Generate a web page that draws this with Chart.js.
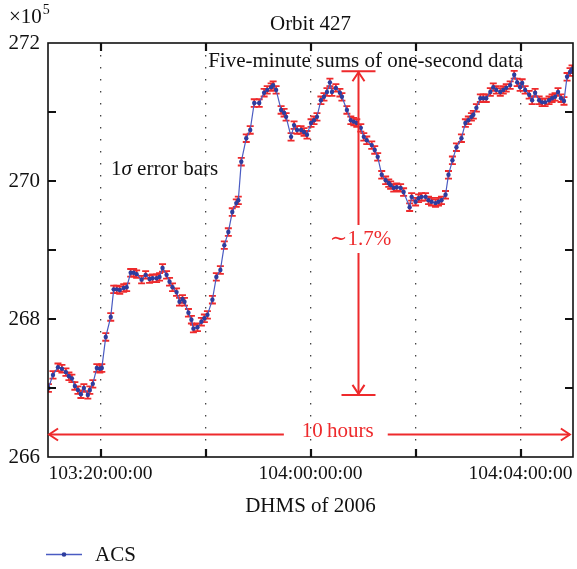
<!DOCTYPE html>
<html><head><meta charset="utf-8">
<script src="https://cdn.jsdelivr.net/npm/chart.js@4/dist/chart.umd.min.js"></script>
<style>html,body{margin:0;padding:0;background:#fff}#wrap{width:577px;height:569px}</style>
</head><body><div id="wrap"><canvas id="c" width="577" height="569"></canvas></div>
<script>
const titleText = 'Orbit 427';
const xAxisTitle = 'DHMS of 2006';
const seriesLabel = 'ACS';
const scaleNote = ['\u00d710', '5'];
const noteTop = 'Five-minute sums of one-second data';
const noteErr = ['1', '\u03c3', ' error bars'];
const noteRange = '\u223c1.7%';
const noteSpan = '10\u2009hours';

// minutes after 103:19:00:00
const minutesFrom1319 = [0.5,5.7,11.4,15.9,20.5,23.9,27.3,30.7,34.2,37.6,41.0,45.5,47.8,51.2,55.8,59.2,61.5,66.0,71.7,75.1,
78.6,82.0,86.5,89.9,94.5,97.9,101.3,107.0,111.6,116.1,119.5,124.1,127.5,130.9,135.5,138.9,142.3,146.9,150.3,153.7,
156.0,160.5,163.9,166.2,170.8,175.3,178.7,182.2,187.9,192.4,197.0,201.5,206.1,210.6,215.2,217.5,220.9,226.6,231.1,235.7,
241.4,247.0,250.5,255.0,257.3,260.7,266.4,269.8,272.1,277.8,281.2,284.6,289.2,292.6,296.0,300.6,304.0,307.4,311.9,315.4,
318.8,322.2,324.5,329.0,333.6,335.9,341.6,346.1,349.5,352.9,357.5,360.9,364.3,370.0,373.4,376.8,381.4,385.9,389.4,391.6,
395.1,398.5,403.0,406.4,413.3,415.6,420.1,423.5,426.9,431.5,434.9,438.3,442.9,446.3,449.7,454.3,457.7,462.2,466.8,472.5,
477.0,480.4,483.9,486.1,489.6,494.1,497.5,500.9,505.5,508.9,512.3,516.9,520.3,523.7,528.2,532.8,536.2,539.6,541.9,545.3,
549.9,553.3,556.7,561.3,564.7,568.1,572.6,576.1,579.5,582.9,586.3,589.7,593.2,596.6,598.9];
// ACS five-minute sums (x 10^5)
const acsValues = [267.00,267.19,267.30,267.28,267.23,267.17,267.14,267.03,266.97,266.91,267.00,266.90,266.97,267.06,267.29,267.28,267.29,267.74,268.03,268.43,
268.43,268.42,268.45,268.46,268.67,268.67,268.65,268.57,268.64,268.58,268.59,268.59,268.61,268.74,268.64,268.54,268.46,268.39,268.25,268.29,
268.25,268.09,267.99,267.86,267.88,267.96,268.01,268.06,268.28,268.61,268.71,269.07,269.26,269.55,269.68,269.72,270.28,270.62,270.74,271.13,
271.13,271.28,271.32,271.36,271.39,271.32,271.03,270.99,270.93,270.64,270.81,270.74,270.74,270.71,270.67,270.84,270.88,270.93,271.17,271.22,
271.29,271.43,271.29,271.35,271.28,271.22,271.03,270.88,270.86,270.84,270.77,270.64,270.59,270.52,270.45,270.35,270.09,270.01,269.97,269.94,
269.90,269.91,269.90,269.84,269.62,269.77,269.70,269.75,269.77,269.77,269.72,269.70,269.68,269.70,269.72,269.80,270.09,270.30,270.49,270.62,
270.84,270.88,270.93,270.96,271.06,271.20,271.20,271.20,271.29,271.36,271.32,271.29,271.32,271.35,271.39,271.54,271.43,271.36,271.42,271.32,
271.25,271.17,271.28,271.17,271.14,271.14,271.17,271.20,271.22,271.29,271.20,271.16,271.51,271.58,271.62];
const sigma = 0.055;

const xTickHours = [20, 22, 24, 26, 28];
const xTickLabels = ['103:20:00:00', '', '104:00:00:00', '', '104:04:00:00'];
const yTickValues = [266, 267, 268, 269, 270, 271, 272];
const yTickLabels = ['266', '', '268', '', '270', '', '272'];

const FONT = '"Liberation Serif", "DejaVu Serif", serif';
const RED = '#ee2a2c';
const BLUE_LINE = '#4a5bc2';
const BLUE_PT = '#2d3d9e';

const xData = minutesFrom1319.map(m => 19 + m / 60);

function arrowHead(ctx, tx, ty, dx, dy) {
  const len = 9, half = 6;
  const px = -dy, py = dx;
  ctx.beginPath();
  ctx.moveTo(tx - dx * len + px * half, ty - dy * len + py * half);
  ctx.lineTo(tx, ty);
  ctx.lineTo(tx - dx * len - px * half, ty - dy * len - py * half);
  ctx.stroke();
}

const decor = {
  id: 'decor',
  beforeDatasetsDraw(chart) {
    const ctx = chart.ctx, xs = chart.scales.x, ys = chart.scales.y, a = chart.chartArea;
    ctx.save();
    ctx.beginPath(); ctx.rect(a.left, a.top, a.right - a.left, a.bottom - a.top); ctx.clip();
    ctx.strokeStyle = RED; ctx.lineWidth = 1.8;
    acsValues.forEach((v, i) => {
      const px = xs.getPixelForValue(xData[i]);
      const t = ys.getPixelForValue(v + sigma), b = ys.getPixelForValue(v - sigma);
      ctx.beginPath();
      ctx.moveTo(px, t); ctx.lineTo(px, b);
      ctx.moveTo(px - 3.5, t); ctx.lineTo(px + 3.5, t);
      ctx.moveTo(px - 3.5, b); ctx.lineTo(px + 3.5, b);
      ctx.stroke();
    });
    ctx.restore();
  },
  afterDraw(chart) {
    const ctx = chart.ctx, xs = chart.scales.x, ys = chart.scales.y, a = chart.chartArea;
    ctx.save();
    ctx.strokeStyle = '#111'; ctx.lineWidth = 1.6;
    ctx.strokeRect(a.left, a.top, a.right - a.left, a.bottom - a.top);
    ctx.lineWidth = 2.2;
    ctx.beginPath();
    xTickHours.forEach(h => {
      const px = Math.round(xs.getPixelForValue(h));
      ctx.moveTo(px, a.top); ctx.lineTo(px, a.top + 8);
      ctx.moveTo(px, a.bottom); ctx.lineTo(px, a.bottom - 8);
    });
    yTickValues.slice(1, -1).forEach(v => {
      const py = Math.round(ys.getPixelForValue(v));
      ctx.moveTo(a.left, py); ctx.lineTo(a.left + 8, py);
      ctx.moveTo(a.right, py); ctx.lineTo(a.right - 8, py);
    });
    ctx.stroke();

    ctx.fillStyle = '#111';
    ctx.font = '21px ' + FONT;
    ctx.textAlign = 'center'; ctx.textBaseline = 'alphabetic';
    ctx.fillText(titleText, (a.left + a.right) / 2, 30);
    ctx.textAlign = 'left';
    ctx.fillText(scaleNote[0], 9, 23);
    const w0 = ctx.measureText(scaleNote[0]).width;
    ctx.font = '14px ' + FONT;
    ctx.fillText(scaleNote[1], 9 + w0 + 1, 14);

    ctx.font = '21px ' + FONT;
    ctx.textAlign = 'center';
    ctx.fillText(noteTop, xs.getPixelForValue(25.05), ys.getPixelForValue(271.65));
    ctx.textAlign = 'left';
    let nx = xs.getPixelForValue(20.2);
    const ny = ys.getPixelForValue(270.09);
    ctx.fillText(noteErr[0], nx, ny); nx += ctx.measureText(noteErr[0]).width;
    ctx.font = 'italic 21px ' + FONT;
    ctx.fillText(noteErr[1], nx, ny); nx += ctx.measureText(noteErr[1]).width;
    ctx.font = '21px ' + FONT;
    ctx.fillText(noteErr[2], nx, ny);

    ctx.strokeStyle = RED; ctx.fillStyle = RED; ctx.lineWidth = 2;
    const vx = Math.round(xs.getPixelForValue(24.90)) + 0.5;
    const vt = ys.getPixelForValue(271.59), vb = ys.getPixelForValue(266.90);
    const vc = ys.getPixelForValue(269.16);
    ctx.beginPath();
    ctx.moveTo(vx - 17, vt); ctx.lineTo(vx + 17, vt);
    ctx.moveTo(vx - 17, vb); ctx.lineTo(vx + 17, vb);
    ctx.moveTo(vx, vt + 1); ctx.lineTo(vx, vc - 14);
    ctx.moveTo(vx, vc + 14); ctx.lineTo(vx, vb - 1);
    ctx.stroke();
    arrowHead(ctx, vx, vt + 1, 0, -1);
    arrowHead(ctx, vx, vb - 1, 0, 1);
    ctx.textAlign = 'center'; ctx.textBaseline = 'middle';
    ctx.fillText(noteRange, vx + 2, vc + 1);

    const hy = Math.round(ys.getPixelForValue(266.33)) + 0.5;
    const hl = xs.getPixelForValue(19.02), hr = xs.getPixelForValue(28.94);
    const hc = xs.getPixelForValue(24.52);
    const tw = ctx.measureText(noteSpan).width;
    ctx.beginPath();
    ctx.moveTo(hl, hy); ctx.lineTo(hc - tw / 2 - 18, hy);
    ctx.moveTo(hc + tw / 2 + 14, hy); ctx.lineTo(hr, hy);
    ctx.stroke();
    arrowHead(ctx, hl, hy, -1, 0);
    arrowHead(ctx, hr, hy, 1, 0);
    ctx.fillText(noteSpan, hc, hy - 3);

    const ly = 554.5;
    ctx.strokeStyle = BLUE_LINE; ctx.lineWidth = 1.5;
    ctx.beginPath(); ctx.moveTo(46, ly); ctx.lineTo(82, ly); ctx.stroke();
    ctx.fillStyle = BLUE_PT;
    ctx.beginPath(); ctx.arc(64, ly, 2.3, 0, Math.PI * 2); ctx.fill();
    ctx.fillStyle = '#111'; ctx.textAlign = 'left'; ctx.textBaseline = 'alphabetic';
    ctx.fillText(chart.data.datasets[0].label, 95, 561);
    ctx.restore();
  }
};

new Chart(document.getElementById('c'), {
  type: 'line',
  data: {
    datasets: [{
      label: seriesLabel,
      data: acsValues.map((v, i) => ({ x: xData[i], y: v })),
      borderColor: BLUE_LINE,
      borderWidth: 1.2,
      pointRadius: 2.2,
      pointBackgroundColor: BLUE_PT,
      pointBorderWidth: 0,
      tension: 0,
      fill: false
    }]
  },
  options: {
    responsive: false,
    animation: false,
    devicePixelRatio: 1,
    layout: { padding: { top: 43, right: 2, bottom: 50, left: 0 } },
    plugins: { legend: { display: false }, title: { display: false }, tooltip: { enabled: false } },
    scales: {
      x: {
        type: 'linear', min: 19, max: 29,
        afterBuildTicks: ax => { ax.ticks = xTickHours.map(v => ({ value: v })); },
        afterFit: ax => { ax.height = 62; ax.paddingLeft = 0; ax.paddingRight = 0; },
        ticks: {
          autoSkip: false, maxRotation: 0, padding: 5, color: '#111',
          font: { family: FONT, size: 19.5 },
          callback: (v, i) => xTickLabels[xTickHours.indexOf(v)] ?? ''
        },
        grid: { display: true, drawTicks: false, color: '#444', lineWidth: 1.3 },
        border: { display: false, dash: [1.5, 10.5] },
        title: { display: true, text: xAxisTitle, color: '#111', font: { family: FONT, size: 21 }, padding: { top: 2, bottom: 0 } }
      },
      y: {
        type: 'linear', min: 266, max: 272,
        afterBuildTicks: ax => { ax.ticks = yTickValues.map(v => ({ value: v })); },
        afterFit: ax => { ax.width = 48; ax.paddingTop = 0; ax.paddingBottom = 0; },
        ticks: {
          padding: 8, color: '#111',
          font: { family: FONT, size: 21 },
          callback: v => yTickLabels[yTickValues.indexOf(v)] ?? ''
        },
        grid: { display: false, drawTicks: false },
        border: { display: false }
      }
    }
  },
  plugins: [decor]
});
</script></body></html>
